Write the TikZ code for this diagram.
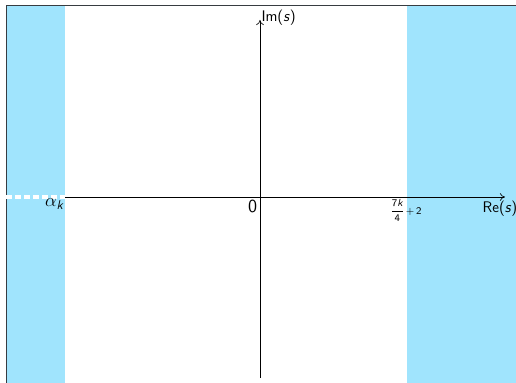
\documentclass[tikz,border=0pt]{standalone}
\usepackage{amsmath,amssymb}
\usepackage{tikz}
\usetikzlibrary{positioning,arrows.meta,calc}
\definecolor{skyband}{RGB}{160,228,253}
\definecolor{framegray}{RGB}{55,60,65}
\newcommand{\sfit}[1]{\textsf{\itshape #1}}

\begin{document}
\begin{tikzpicture}[x=0.0275cm,y=0.0275cm,font=\sffamily\large,
    axis/.style={-{To[length=4pt,width=6pt]},line width=0.5pt},
    band/.style={fill=skyband,draw=none}]
  \useasboundingbox (0,0) rectangle (516,383);
  % half-planes
  \fill[band] (6,0) rectangle (65,378);
  \fill[band] (407,0) rectangle (516,378);
  % frame edges
  \draw[framegray,line width=0.6pt] (6,0) -- (6,378) -- (516,378);
  % axes
  \coordinate (O) at (260,186);
  \coordinate (alpha) at (65,186);
  \coordinate (bound) at (407,186);
  \coordinate (left) at (6,186);
  \coordinate (reend) at (505,186);
  \coordinate (imbot) at (260,5);
  \coordinate (imtop) at (260,363);
  \draw[white,line width=2.6pt,dash pattern=on 4.6pt off 2.4pt] (left) -- (alpha);
  \draw[axis] (alpha) -- (reend);
  \draw[axis] (imbot) -- (imtop);
  % labels
  \node[anchor=north east,inner sep=1pt,font=\Large] (lalpha) at (alpha) {$\alpha_{\sfit{k}}$};
  \node[anchor=north east,inner sep=2pt,font=\sffamily\Large] (lzero) at (O) {0};
  \node[anchor=north,inner sep=2pt,font=\sffamily\footnotesize] (lbound) at ($(bound)+(-1,0)$)
    {$\dfrac{\textsf{7}\sfit{k}}{\textsf{4}}\textsf{\,+\,2}$};
  \node[anchor=north,inner sep=3pt] (lre) at ($(reend)+(-5,0)$) {Re(\sfit{s})};
  \node[anchor=south west,inner sep=1pt] (lim) at ($(imtop)+(0,-7)$) {Im(\sfit{s})};
\end{tikzpicture}
\end{document}
